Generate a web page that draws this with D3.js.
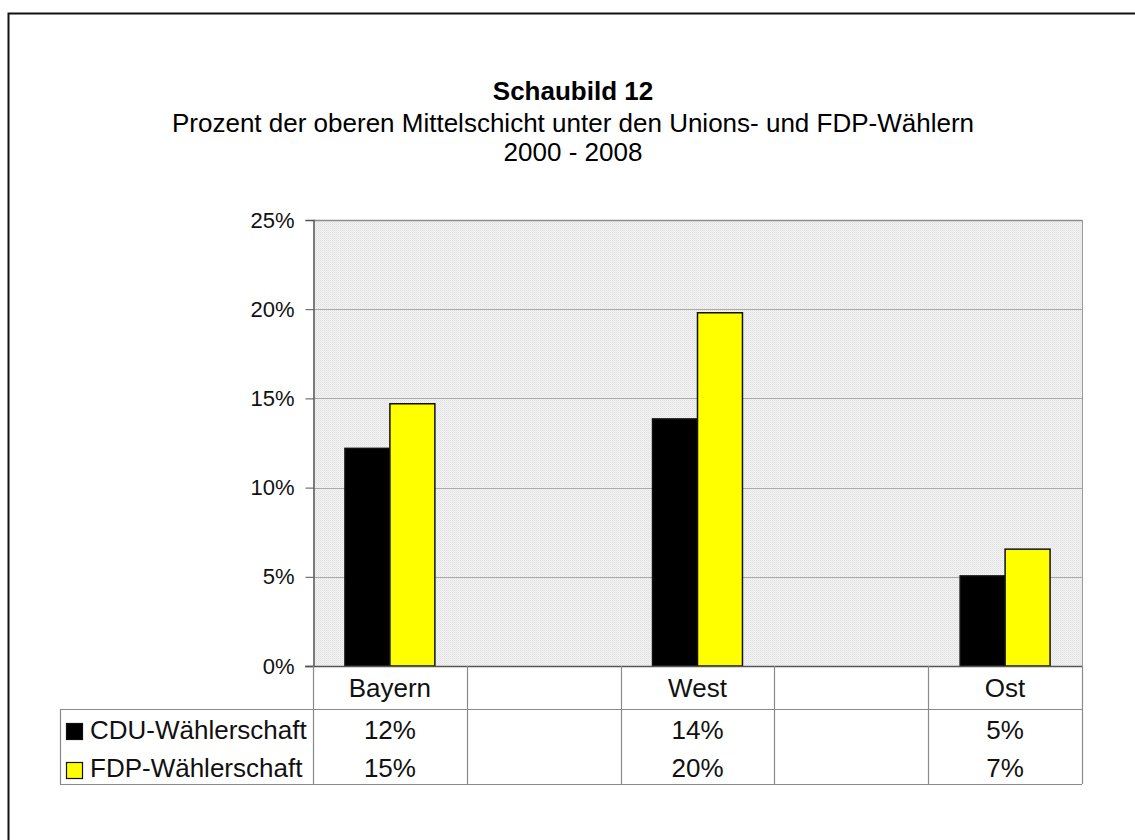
<!DOCTYPE html>
<html>
<head>
<meta charset="utf-8">
<script src="https://cdn.jsdelivr.net/npm/d3@7"></script>
<style>
  body { margin: 0; background: #fff; }
  svg { display: block; font-family: "Liberation Sans", Arial, sans-serif; }
</style>
</head>
<body>
<svg width="1135" height="840"></svg>
<script>
// data
const categories = ['Bayern', '', 'West', '', 'Ost'];
const seriesNames = ['CDU-Wählerschaft', 'FDP-Wählerschaft'];
const cduValues = [12.2, 0, 13.85, 0, 5.05];
const fdpValues = [14.7, 0, 19.8, 0, 6.55];
const hasData = [true, false, true, false, true];
const yTicks = [0, 5, 10, 15, 20, 25];
const colors = ['#000000', '#ffff00'];

const svg = d3.select('svg');

const plot = { left: 313, right: 1082, top: 220, bottom: 666 };
const rowCat = 709, rowEnd = 784, tableLeft = 60;

// dotted pattern for the plot background
const defs = svg.append('defs');
const pat = defs.append('pattern')
  .attr('id', 'dots').attr('width', 2).attr('height', 2)
  .attr('patternUnits', 'userSpaceOnUse');
pat.append('rect').attr('width', 2).attr('height', 2).attr('fill', '#f3f3f3');
pat.append('rect').attr('width', 1).attr('height', 1).attr('fill', '#e0e0e0');
pat.append('rect').attr('x', 1).attr('y', 1).attr('width', 1).attr('height', 1).attr('fill', '#e8e8e8');

// outer frame
svg.append('rect')
  .attr('x', 8.5).attr('y', 13.5).attr('width', 1160).attr('height', 860)
  .attr('fill', 'none').attr('stroke', '#111').attr('stroke-width', 2);

// titles
const title = svg.append('g').attr('text-anchor', 'middle').attr('fill', '#000');
title.append('text').attr('x', 573).attr('y', 100)
  .attr('font-size', 26).attr('font-weight', 'bold').text('Schaubild 12');
title.append('text').attr('x', 573).attr('y', 132)
  .attr('font-size', 26).text('Prozent der oberen Mittelschicht unter den Unions- und FDP-Wählern');
title.append('text').attr('x', 573).attr('y', 161)
  .attr('font-size', 26).text('2000 - 2008');

// scales
const x = d3.scaleBand().domain(d3.range(categories.length))
  .range([plot.left, plot.right]).padding(0);
const x1 = d3.scaleBand().domain(seriesNames)
  .range([0, x.bandwidth()]).paddingInner(0).paddingOuter(0.71);
const y = d3.scaleLinear().domain([0, 25]).range([plot.bottom, plot.top]);

svg.append('rect')
  .attr('x', plot.left).attr('y', plot.top)
  .attr('width', plot.right - plot.left).attr('height', plot.bottom - plot.top)
  .attr('fill', 'url(#dots)');

// gridlines
svg.append('g').selectAll('line').data(yTicks.filter(d => d > 0)).join('line')
  .attr('x1', plot.left).attr('x2', plot.right)
  .attr('y1', d => Math.round(y(d)) + 0.5).attr('y2', d => Math.round(y(d)) + 0.5)
  .attr('stroke', d => d === 25 ? '#8c8c8c' : '#a8a8a8').attr('stroke-width', d => d === 25 ? 1.5 : 1);

svg.append('line')
  .attr('x1', plot.right + 0.5).attr('x2', plot.right + 0.5)
  .attr('y1', plot.top).attr('y2', plot.bottom)
  .attr('stroke', '#999');

// y axis
const yAxis = d3.axisLeft(y).tickValues(yTicks).tickSize(8).tickPadding(11)
  .tickFormat(d => d + '%');
const ya = svg.append('g').attr('transform', `translate(${plot.left + 0.5},0)`).call(yAxis);
ya.attr('font-family', null).attr('font-size', null);
ya.select('.domain').attr('stroke', '#555').attr('stroke-width', 1.5);
ya.selectAll('.tick line').attr('stroke', '#555');
ya.selectAll('.tick text').attr('font-size', 22).attr('fill', '#111');

// bars
const series = [cduValues, fdpValues];
const groups = svg.append('g').selectAll('g')
  .data(d3.range(categories.length).filter(i => hasData[i])).join('g')
  .attr('transform', i => `translate(${x(i)},0)`);
groups.selectAll('rect')
  .data(i => seriesNames.map((s, k) => ({ s, k, v: series[k][i] })))
  .join('rect')
  .attr('x', d => x1(d.s))
  .attr('width', x1.bandwidth())
  .attr('y', d => y(d.v))
  .attr('height', d => y(0) - y(d.v))
  .attr('fill', d => colors[d.k])
  .attr('stroke', '#111').attr('stroke-width', 1.5);

// baseline
svg.append('line')
  .attr('x1', plot.left - 8).attr('x2', plot.right)
  .attr('y1', plot.bottom + 0.5).attr('y2', plot.bottom + 0.5)
  .attr('stroke', '#555').attr('stroke-width', 1.5);

// data table
const grid = svg.append('g').attr('stroke', '#8a8a8a').attr('stroke-width', 1.2);
const vlines = d3.range(categories.length + 1).map(i => i < categories.length ? x(i) : plot.right);
grid.selectAll('line.v').data(vlines).join('line')
  .attr('x1', d => Math.round(d) + 0.5).attr('x2', d => Math.round(d) + 0.5)
  .attr('y1', plot.bottom).attr('y2', rowEnd);
grid.append('line').attr('x1', tableLeft + 0.5).attr('x2', tableLeft + 0.5)
  .attr('y1', rowCat).attr('y2', rowEnd);
grid.append('line').attr('x1', tableLeft).attr('x2', plot.right)
  .attr('y1', rowCat + 0.5).attr('y2', rowCat + 0.5);
grid.append('line').attr('x1', tableLeft).attr('x2', plot.right)
  .attr('y1', rowEnd + 0.5).attr('y2', rowEnd + 0.5);

const cells = svg.append('g').attr('text-anchor', 'middle').attr('font-size', 26).attr('fill', '#111');
cells.selectAll('text.cat').data(categories).join('text')
  .attr('x', (d, i) => x(i) + x.bandwidth() / 2).attr('y', 697).text(d => d);

const pct = d3.format('.0%');
series.forEach((vals, k) => {
  cells.append('g').selectAll('text').data(vals).join('text')
    .attr('x', (d, i) => x(i) + x.bandwidth() / 2)
    .attr('y', k === 0 ? 739 : 777)
    .text((d, i) => hasData[i] ? pct(d / 100) : '');
});

// legend keys
const legend = svg.append('g');
seriesNames.forEach((name, k) => {
  const yy = k === 0 ? 723 : 762;
  legend.append('rect').attr('x', 66.5).attr('y', yy + 0.5).attr('width', 16).attr('height', 16)
    .attr('fill', colors[k]).attr('stroke', '#111').attr('stroke-width', 1.2);
  legend.append('text').attr('x', 90).attr('y', k === 0 ? 739 : 777)
    .attr('font-size', 26).attr('fill', '#111').text(name);
});
</script>
</body>
</html>
